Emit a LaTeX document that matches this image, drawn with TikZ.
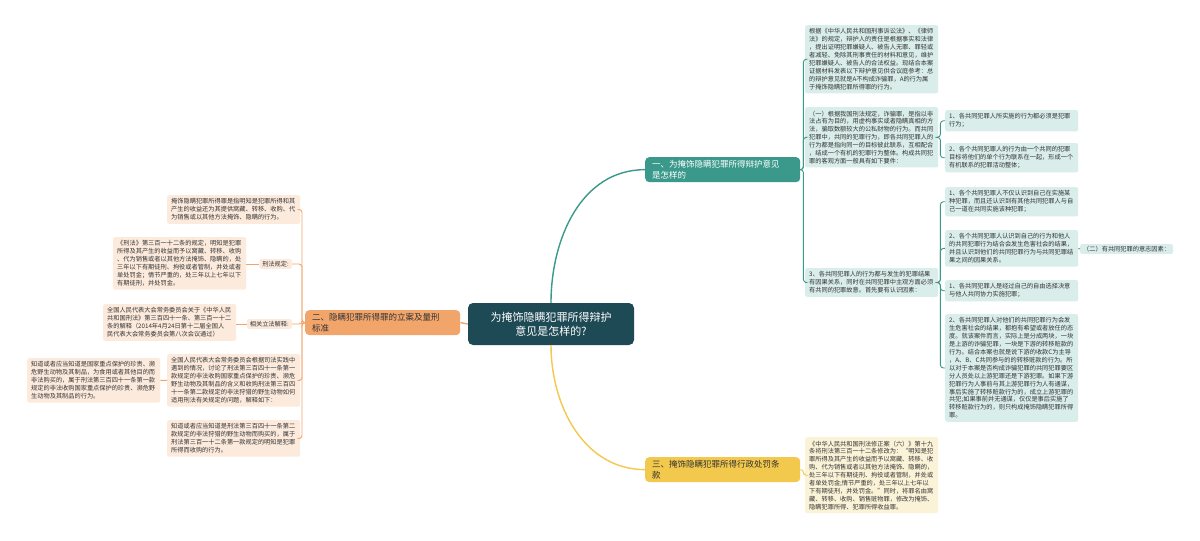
\documentclass[tikz,border=0pt]{standalone}
\usepackage{fontspec}
\newfontfamily\cjk{Noto Sans CJK SC}
\definecolor{rootc}{HTML}{1E4A56}
\definecolor{tealc}{HTML}{3A998B}
\definecolor{tealbg}{HTML}{D9EDEA}
\definecolor{orangec}{HTML}{F2A56B}
\definecolor{orangebg}{HTML}{FCEBDD}
\definecolor{goldc}{HTML}{F2C94C}
\definecolor{goldbg}{HTML}{FBF3D8}
\definecolor{txt}{HTML}{333333}
\begin{document}
\begin{tikzpicture}[x=1pt,y=-1pt,
    leaf/.style={rounded corners=2pt, anchor=north west, text width=125pt,
      inner xsep=4pt, inner ysep=3.5pt, align=left, text=txt,
      font=\cjk\fontsize{6.2}{7.9}\selectfont},
    rleaf/.style={leaf, fill=tealbg},
    lleaf/.style={leaf, fill=orangebg},
    gleaf/.style={leaf, fill=goldbg},
    tag/.style={rounded corners=2pt, inner xsep=3pt, inner ysep=2pt, text=txt,
      font=\cjk\fontsize{6.2}{7.9}\selectfont},
    branch/.style={rounded corners=4pt, anchor=north west, text width=141pt,
      inner xsep=7pt, inner ysep=3pt, align=left,
      font=\cjk\fontsize{8.5}{11}\selectfont},
    rline/.style={draw=tealc, line width=0.9pt, rounded corners=3pt},
    lline/.style={draw=orangec, line width=0.9pt, rounded corners=3pt},
    gline/.style={draw=goldc, line width=0.9pt, rounded corners=3pt}]

    \fill[white] (0,0) rectangle (1200,541);
    \useasboundingbox (0,0) rectangle (1200,541);

    % centre and the three branches
    \node[fill=rootc, text=white, rounded corners=5pt, minimum width=166pt,
      minimum height=42pt, align=center, font=\cjk\fontsize{11}{14}\selectfont]
      (root) at (551,324) {为掩饰隐瞒犯罪所得辩护\\意见是怎样的?};
    \node[branch, fill=tealc, text=white] (b1) at (645,157)
      {一、为掩饰隐瞒犯罪所得辩护意见\\是怎样的};
    \node[branch, fill=orangec, text=txt] (b2) at (305,310)
      {二、隐瞒犯罪所得罪的立案及量刑\\标准};
    \node[branch, fill=goldc, text=txt] (b3) at (645,457)
      {三、掩饰隐瞒犯罪所得行政处罚条\\款};

    \draw[tealc, line width=1.4pt] (root.north) to[out=90,in=180] (b1.west);
    \draw[goldc, line width=1.4pt] (root.south) to[out=-90,in=180] (b3.west);
    \draw[orangec, line width=1.4pt] (root.west) -- (b2.east);

    % right, first branch
    \node[rleaf] (ra) at (805,25)
      {根据《中华人民共和国刑事诉讼法》、《律师\\法》的规定，辩护人的责任是根据事实和法律\\，提出证明犯罪嫌疑人、被告人无罪、罪轻或\\者减轻、免除其刑事责任的材料和意见，维护\\犯罪嫌疑人、被告人的合法权益。现结合本案\\证据材料发表以下辩护意见供合议庭参考：总\\的辩护意见就是A不构成诈骗罪，A的行为属\\于掩饰隐瞒犯罪所得罪的行为。};
    \node[rleaf] (rb) at (805,107)
      {（一）根据我国刑法规定，诈骗罪，是指以非\\法占有为目的，用虚构事实或者隐瞒真相的方\\法，骗取数额较大的公私财物的行为。而共同\\犯罪中，共同的犯罪行为，即各共同犯罪人的\\行为都是指向同一的目标彼此联系，互相配合\\，结成一个有机的犯罪行为整体。构成共同犯\\罪的客观方面一般具有如下要件：};
    \node[rleaf] (rd) at (805,268)
      {3、各共同犯罪人的行为都与发生的犯罪结果\\有因果关系，同时在共同犯罪中主观方面必须\\有共同的犯罪故意。首先要有认识因素：};
    \node[rleaf] (rb1) at (945,110)
      {1、各共同犯罪人所实施的行为都必须是犯罪\\行为；};
    \node[rleaf] (rb2) at (945,143)
      {2、各个共同犯罪人的行为由一个共同的犯罪\\目标将他们的单个行为联系在一起，形成一个\\有机联系的犯罪活动整体；};
    \node[rleaf] (rd1) at (945,187)
      {1、各个共同犯罪人不仅认识到自己在实施某\\种犯罪，而且还认识到有其他共同犯罪人与自\\己一道在共同实施该种犯罪；};
    \node[rleaf] (rd2) at (945,230)
      {2、各个共同犯罪人认识到自己的行为和他人\\的共同犯罪行为结合会发生危害社会的结果，\\并且认识到他们的共同犯罪行为与共同犯罪结\\果之间的因果关系。};
    \node[rleaf] (rd3) at (945,280)
      {1、各共同犯罪人是经过自己的自由选择决意\\与他人共同协力实施犯罪；};
    \node[rleaf] (rd4) at (945,314)
      {2、各共同犯罪人对他们的共同犯罪行为会发\\生危害社会的结果，都抱有希望或者放任的态\\度。就该案件而言，实际上是分成两块，一块\\是上游的诈骗犯罪，一块是下游的转移赃款的\\行为。结合本案也就是说下游的收款C为主导\\，A、B、C共同参与的的转移赃款的行为。所\\以对于本案是否构成诈骗犯罪的共同犯罪要区\\分人员处以上游犯罪还是下游犯罪。如果下游\\犯罪行为人事前与其上游犯罪行为人有通谋，\\事后实施了转移赃款行为的，成立上游犯罪的\\共犯;如果事前并无通谋，仅仅是事后实施了\\转移赃款行为的，则只构成掩饰隐瞒犯罪所得\\罪。};
    \node[tag, fill=tealbg, anchor=west] (rwill) at (1080,249)
      {（二）有共同犯罪的意志因素：};

    \foreach \k in {ra,rb,rd}
      \draw[rline] (b1.east) -- ++(3,0) |- (\k.west);
    \foreach \k in {rb1,rb2}
      \draw[rline] (rb.east) -- ++(2,0) |- (\k.west);
    \foreach \k in {rd1,rd2,rd3,rd4}
      \draw[rline] (rd.east) -- ++(2,0) |- (\k.west);
    \draw[rline] (rd2.east) -- (rwill.west);

    % right, third branch
    \node[gleaf] (gr) at (805,437)
      {《中华人民共和国刑法修正案（六）》第十九\\条将刑法第三百一十二条修改为：“明知是犯\\罪所得及其产生的收益而予以窝藏、转移、收\\购、代为销售或者以其他方法掩饰、隐瞒的，\\处三年以下有期徒刑、拘役或者管制，并处或\\者单处罚金;情节严重的，处三年以上七年以\\下有期徒刑，并处罚金。”同时，将罪名由窝\\藏、转移、收购、销售赃物罪，修改为掩饰、\\隐瞒犯罪所得、犯罪所得收益罪。};
    \draw[gline] (b3.east) -- ++(3,0) |- (gr.west);

    % left, second branch
    \node[lleaf] (la) at (167,195)
      {掩饰隐瞒犯罪所得罪是指明知是犯罪所得和其\\产生的收益还为其提供窝藏、转移、收购、代\\为销售或以其他方法掩饰、隐瞒的行为。};
    \node[tag, fill=orangebg, anchor=east] (lrule) at (292,264) {刑法规定:};
    \node[lleaf] (lrule1) at (113,237)
      {《刑法》第三百一十二条的规定，明知是犯罪\\所得及其产生的收益而予以窝藏、转移、收购\\、代为销售或者以其他方法掩饰、隐瞒的，处\\三年以下有期徒刑、拘役或者管制，并处或者\\单处罚金；情节严重的，处三年以上七年以下\\有期徒刑，并处罚金。};
    \node[tag, fill=orangebg, anchor=east] (llaw) at (292,324) {相关立法解释:};
    \node[lleaf] (llaw1) at (103,304)
      {全国人民代表大会常务委员会关于《中华人民\\共和国刑法》第三百四十一条、第三百一十二\\条的解释（2014年4月24日第十二届全国人\\民代表大会常务委员会第八次会议通过）};
    \node[lleaf] (lc) at (167,354)
      {全国人民代表大会常务委员会根据司法实践中\\遇到的情况，讨论了刑法第三百四十一条第一\\款规定的非法收购国家重点保护的珍贵、濒危\\野生动物及其制品的含义和收购刑法第三百四\\十一条第二款规定的非法狩猎的野生动物如何\\适用刑法有关规定的问题，解释如下：};
    \node[lleaf] (lc1) at (27,358)
      {知道或者应当知道是国家重点保护的珍贵、濒\\危野生动物及其制品，为食用或者其他目的而\\非法购买的，属于刑法第三百四十一条第一款\\规定的非法收购国家重点保护的珍贵、濒危野\\生动物及其制品的行为。};
    \node[lleaf] (ld) at (167,420)
      {知道或者应当知道是刑法第三百四十一条第二\\款规定的非法狩猎的野生动物而购买的，属于\\刑法第三百一十二条第一款规定的明知是犯罪\\所得而收购的行为。};

    \foreach \k in {la,lrule,llaw,lc,ld}
      \draw[lline] (b2.west) -- ++(-3,0) |- (\k.east);
    \draw[lline] (lrule.west) -- (lrule1.east |- lrule.west);
    \draw[lline] (llaw.west) -- (llaw1.east |- llaw.west);
    \draw[lline] (lc.west) -- (lc1.east);
\end{tikzpicture}
\end{document}
